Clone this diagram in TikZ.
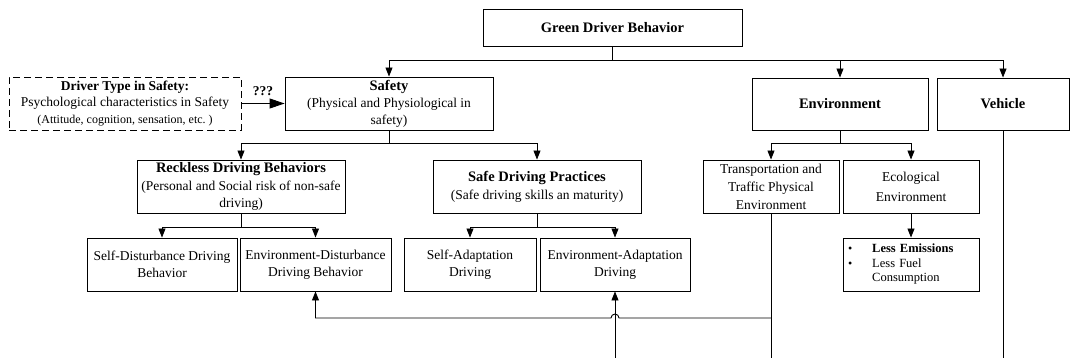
\documentclass[tikz,border=0pt]{standalone}
\usepackage{fontspec}
\setmainfont{Liberation Serif}
\usetikzlibrary{arrows.meta,calc}
\begin{document}
\begin{tikzpicture}[x=1pt,y=-1pt,
  box/.style={draw,line width=0.9pt,rectangle,inner sep=0pt,align=center,
    font=\fontsize{13.5}{17}\selectfont},
  dbox/.style={box,dash pattern=on 7pt off 4pt},
  conn/.style={line width=0.9pt},
  arr/.style={conn,-{Triangle[width=7pt,length=9pt]}},
  bigarr/.style={conn,-{Triangle[width=10pt,length=15pt]}},
  ttl/.style={font=\fontsize{14.5}{17}\selectfont\bfseries},
]
\useasboundingbox (0,0) rectangle (1071,358);
\newcommand\bhead[1]{{\fontsize{14.5}{17}\selectfont\bfseries #1}}
% top
\node[box,ttl,minimum width=259pt,minimum height=37pt] (gdb) at (612.5,27.5) {Green Driver Behavior};
% second row
\node[dbox,minimum width=232pt,minimum height=53pt,font=\fontsize{13.5}{16.5}\selectfont] (drv) at (125,103.5)
  {\textbf{Driver Type in Safety:}\\Psychological characteristics in Safety\\{\fontsize{12}{16.5}\selectfont(Attitude, cognition, sensation, etc.\ )}};
\node[box,minimum width=208pt,minimum height=53pt] (saf) at (389,103.5)
  {\bhead{Safety}\\(Physical and Physiological in\\safety)};
\node[box,ttl,minimum width=176pt,minimum height=52pt] (env) at (840,104) {Environment};
\node[box,ttl,minimum width=132pt,minimum height=52pt] (veh) at (1003,104) {Vehicle};
% third row
\node[box,minimum width=208pt,minimum height=53pt,font=\fontsize{13.5}{17.5}\selectfont] (rek) at (241,186.5)
  {\bhead{Reckless Driving Behaviors}\\(Personal and Social risk of non-safe\\driving)};
\node[box,minimum width=208pt,minimum height=53pt,font=\fontsize{13.5}{18}\selectfont] (sdp) at (537,186.5)
  {\bhead{Safe Driving Practices}\\(Safe driving skills an maturity)};
\node[box,minimum width=136pt,minimum height=53pt,font=\fontsize{13.5}{18}\selectfont] (tra) at (771,186.5)
  {Transportation and\\Traffic Physical\\Environment};
\node[box,minimum width=136pt,minimum height=53pt,font=\fontsize{13.5}{20}\selectfont] (eco) at (911,186.5)
  {Ecological\\Environment};
% fourth row
\node[box,minimum width=150pt,minimum height=53pt] (sdb) at (162,264.5) {Self-Disturbance Driving\\Behavior};
\node[box,minimum width=151pt,minimum height=53pt] (edb) at (315.5,264.5) {Environment-Disturbance\\Driving Behavior};
\node[box,minimum width=132pt,minimum height=53pt] (sad) at (470,264.5) {Self-Adaptation\\Driving};
\node[box,minimum width=150pt,minimum height=53pt] (ead) at (615,264.5) {Environment-Adaptation\\Driving};
\node[box,minimum width=136pt,minimum height=53pt,text width=126pt,inner xsep=5pt,align=left,
  font=\fontsize{12.5}{14.5}\selectfont] (les) at (911,264.5)
  {\begin{tabular}{@{}l@{\hspace{20pt}}l@{}}{\large\textbullet} & \textbf{Less Emissions}\\ {\large\textbullet} & Less Fuel\\ & Consumption\end{tabular}};
% helper coordinates
\coordinate (bot) at (0,358);
\coordinate (hl) at (0,318);
% connectors
\coordinate (j1) at ($(gdb.south)+(0,14)$);
\draw[conn] (gdb.south) -- (j1);
\draw[arr] (j1) -| (saf.north);
\draw[arr] (j1) -| (env.north);
\draw[arr] (j1) -| (veh.north);
\draw[bigarr] (drv.east) -- (saf.west) node[midway,above=4pt,font=\fontsize{13.5}{16}\selectfont\bfseries] (q) {???};
\coordinate (j2) at ($(saf.south)+(0,13)$);
\draw[conn] (saf.south) -- (j2);
\draw[arr] (j2) -| (rek.north);
\draw[arr] (j2) -| (sdp.north);
\coordinate (j3) at ($(rek.south)+(0,14)$);
\draw[conn] (rek.south) -- (j3);
\draw[arr] (j3) -| (sdb.north);
\draw[arr] (j3) -| (edb.north);
\coordinate (j4) at ($(sdp.south)+(0,14)$);
\draw[conn] (sdp.south) -- (j4);
\draw[arr] (j4) -| (sad.north);
\draw[arr] (j4) -| (ead.north);
\coordinate (j5) at ($(env.south)+(0,13)$);
\draw[conn] (env.south) -- (j5);
\draw[arr] (j5) -| (tra.north);
\draw[arr] (j5) -| (eco.north);
\draw[arr] (eco.south) -- (les.north);
\draw[conn] (tra.south) -- (tra.south |- bot);
\draw[arr] (tra.south |- hl) -- ($(ead.south |- hl)+(4,0)$) arc[start angle=0,end angle=180,radius=4pt] -- (edb.south |- hl) -- (edb.south);
\draw[arr] (ead.south |- bot) -- (ead.south);
\draw[conn] (veh.south) -- (veh.south |- bot);
\end{tikzpicture}
\end{document}
